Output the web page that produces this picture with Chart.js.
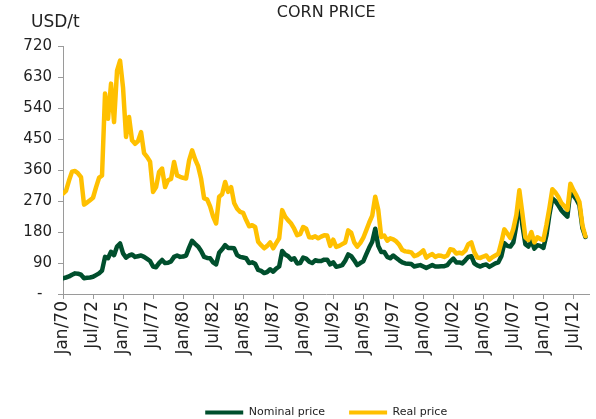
<!DOCTYPE html>
<html>
<head>
    <title>Corn price</title>
    <script src="https://cdn.jsdelivr.net/npm/chart.js"></script>
    <style>
        body { margin: 0; background: #fff; }
    </style>
</head>
<body>
    <canvas id="cornChart" width="596" height="419"></canvas>

    <script>
        // quarterly values (Jan, Apr, Jul, Oct), starting Jan/70, USD/t
        const nominalPrice = [
            46, 48, 51, 56, 60, 59, 56, 46, 47, 48,
            50, 55, 60, 68, 108, 104, 123, 113, 138, 147,
            118, 106, 112, 115, 108, 110, 112, 108, 102, 96,
            80, 78, 90, 99, 90, 91, 95, 108, 112, 108,
            109, 112, 135, 155, 146, 138, 125, 108, 105, 104,
            92, 86, 120, 130, 142, 134, 134, 133, 113, 108,
            106, 104, 90, 92, 88, 70, 67, 61, 64, 72,
            65, 74, 80, 125, 115, 110, 100, 104, 89, 90,
            106, 103, 94, 90, 98, 96, 96, 100, 100, 86,
            92, 79, 81, 84, 97, 115, 110, 98, 84, 90,
            95, 115, 135, 152, 190, 140, 122, 122, 108, 104,
            112, 105, 98, 92, 89, 88, 87, 80, 82, 84,
            80, 76, 80, 84, 80, 80, 81, 81, 84, 95,
            103, 92, 92, 89, 98, 108, 110, 89, 83, 80,
            84, 86, 79, 84, 89, 92, 110, 148, 140, 138,
            150, 200, 275, 200, 145, 138, 155, 132, 142, 140,
            134, 170, 230, 278, 270, 258, 243, 234, 225, 302,
            287, 275, 258, 192, 166
        ];
        const realPrice = [
            292, 300, 330, 356, 358, 351, 340, 260, 266, 273,
            280, 310, 338, 345, 583, 510, 612, 500, 650, 679,
            600, 457, 515, 447, 437, 445, 471, 410, 399, 385,
            297, 311, 355, 365, 311, 331, 335, 384, 345, 341,
            338, 336, 389, 418, 392, 372, 335, 278, 275, 255,
            225, 205, 283, 290, 326, 297, 311, 265, 248, 239,
            236, 215, 197, 200, 195, 152, 142, 133, 140, 150,
            133, 148, 162, 244, 225, 214, 205, 190, 171, 174,
            195, 190, 165, 164, 168, 162, 167, 171, 170, 140,
            158, 137, 140, 145, 150, 185, 178, 150, 138, 148,
            163, 185, 208, 228, 283, 245, 166, 170, 155, 162,
            159, 153, 143, 128, 124, 123, 121, 110, 113, 119,
            127, 106, 112, 116, 108, 112, 111, 108, 112, 130,
            128, 118, 120, 118, 126, 145, 150, 122, 106, 105,
            109, 112, 100, 107, 112, 117, 150, 188, 176, 163,
            190, 230, 302, 235, 165, 157, 180, 150, 165, 160,
            157, 200, 250, 305, 295, 282, 265, 255, 245, 321,
            302, 287, 268, 200, 168
        ];
        // one label every 30 months
        const tickLabels = [
            'Jan/70', 'Jul/72', 'Jan/75', 'Jul/77', 'Jan/80', 'Jul/82',
            'Jan/85', 'Jul/87', 'Jan/90', 'Jul/92', 'Jan/95', 'Jul/97',
            'Jan/00', 'Jul/02', 'Jan/05', 'Jul/07', 'Jan/10', 'Jul/12'
        ];

        const FONT = 'DejaVu Sans';
        const AXIS = '#9a9a9a';
        const TEXT = '#222';

        // month index since Jan/70 for each quarterly value
        const toPoints = arr => arr.map((v, i) => ({ x: i * 3, y: v }));

        // "USD/t" unit label above the value axis
        const unitLabel = {
            id: 'unitLabel',
            afterDraw(chart) {
                const ctx = chart.ctx;
                ctx.save();
                ctx.font = '17px "' + FONT + '"';
                ctx.fillStyle = TEXT;
                ctx.textBaseline = 'middle';
                ctx.fillText('USD/t', 31, 23);
                ctx.restore();
            }
        };

        const ctx = document.getElementById('cornChart').getContext('2d');
        new Chart(ctx, {
            type: 'line',
            data: {
                datasets: [
                    {
                        label: 'Nominal price',
                        data: toPoints(nominalPrice),
                        borderColor: '#004f2d',
                        backgroundColor: '#004f2d',
                        borderWidth: 4.5,
                        pointRadius: 0,
                        borderJoinStyle: 'round',
                        borderCapStyle: 'round',
                        order: 1
                    },
                    {
                        label: 'Real price',
                        data: toPoints(realPrice),
                        borderColor: '#ffc000',
                        backgroundColor: '#ffc000',
                        borderWidth: 4.5,
                        pointRadius: 0,
                        borderJoinStyle: 'round',
                        borderCapStyle: 'round',
                        order: 0
                    }
                ]
            },
            plugins: [unitLabel],
            options: {
                responsive: false,
                animation: false,
                layout: { padding: { left: 0, right: 2, top: 0, bottom: 0 } },
                plugins: {
                    tooltip: { enabled: false },
                    title: {
                        display: true,
                        text: 'CORN PRICE',
                        fullSize: false,
                        color: TEXT,
                        font: { family: FONT, size: 16, weight: 'normal' },
                        padding: { top: 3, bottom: 24.3 }
                    },
                    legend: {
                        position: 'bottom',
                        fullSize: false,
                        maxHeight: 36,
                        labels: {
                            boxWidth: 38,
                            boxHeight: 4,
                            padding: 24,
                            color: TEXT,
                            font: { family: FONT, size: 11 },
                            sort: (a, b) => a.datasetIndex - b.datasetIndex,
                            generateLabels: chart =>
                                Chart.defaults.plugins.legend.labels.generateLabels(chart)
                                    .map(l => Object.assign(l, { lineWidth: 0 }))
                        }
                    }
                },
                scales: {
                    x: {
                        type: 'linear',
                        min: 0,
                        max: 526,
                        border: { color: AXIS },
                        grid: { drawOnChartArea: false, tickLength: 5, color: AXIS },
                        ticks: {
                            stepSize: 30,
                            includeBounds: false,
                            autoSkip: false,
                            minRotation: 90,
                            maxRotation: 90,
                            padding: 2,
                            color: TEXT,
                            font: { family: FONT, size: 17 },
                            callback: v => tickLabels[v / 30]
                        },
                        afterFit: s => { s.height = 89; }
                    },
                    y: {
                        min: 0,
                        max: 720,
                        border: { color: AXIS },
                        grid: { drawOnChartArea: false, tickLength: 5, color: AXIS },
                        ticks: {
                            stepSize: 90,
                            padding: 6,
                            color: TEXT,
                            font: { family: FONT, size: 15 },
                            callback: v => v === 0 ? '-  ' : v
                        },
                        afterFit: s => { s.width = 63; }
                    }
                }
            }
        });
    </script>
</body>
</html>
